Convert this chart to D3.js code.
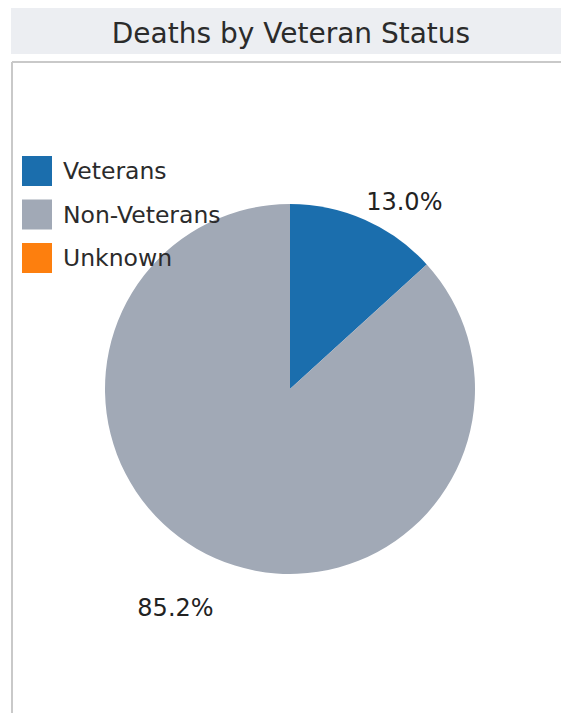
<!DOCTYPE html>
<html>
<head>
<meta charset="utf-8">
<script src="https://cdn.jsdelivr.net/npm/d3@7/dist/d3.min.js"></script>
<style>
  html, body { margin: 0; padding: 0; background: #fff; }
  svg { display: block; font-family: "DejaVu Sans", sans-serif; }
</style>
</head>
<body>
<svg id="chart" width="561" height="713"></svg>
<script>
// Deaths by veteran status, share of total (%)
const categories = ["Veterans", "Non-Veterans", "Unknown"];
const shares = [13.0, 85.2, 0];
const colors = ["#1b6ead", "#a1a9b6", "#fd7f0e"];
const title = "Deaths by Veteran Status";

const svg = d3.select("#chart");
const W = 561, H = 713;

// Title band
svg.append("rect").attr("x", 11).attr("y", 8).attr("width", W - 11).attr("height", 46)
  .attr("fill", "#eceef2");
svg.append("text").attr("x", 291).attr("y", 43).attr("text-anchor", "middle")
  .attr("font-size", 28).attr("fill", "#2b2b2b").text(title);

// Panel frame (top and left edges)
svg.append("line").attr("x1", 12).attr("x2", W).attr("y1", 62).attr("y2", 62)
  .attr("stroke", "#c9c9c9").attr("stroke-width", 2);
svg.append("line").attr("x1", 12).attr("x2", 12).attr("y1", 62).attr("y2", H)
  .attr("stroke", "#c9c9c9").attr("stroke-width", 2);

// Pie
const cx = 290, cy = 389, r = 185;
const data = categories.map((c, i) => ({ name: c, value: shares[i], color: colors[i] }));
const pie = d3.pie().value(d => d.value).sort(null).startAngle(0).endAngle(2 * Math.PI);
const arcs = pie(data);
const arc = d3.arc().innerRadius(0).outerRadius(r);

const g = svg.append("g").attr("transform", `translate(${cx},${cy})`);
g.selectAll("path").data(arcs.filter(a => a.data.value > 0)).join("path")
  .attr("d", arc).attr("fill", d => d.data.color);

// Percentage labels outside the slices (radius factor and small pixel nudge per label)
const labelPlace = {
  "Veterans": { k: 1.1, dx: -6, dy: -2 },
  "Non-Veterans": { k: 1.29, dx: 20, dy: 0 }
};
g.selectAll("text.pct").data(arcs.filter(a => a.data.value > 0)).join("text")
  .attr("class", "pct")
  .each(function (d) {
    const p = labelPlace[d.data.name] || { k: 1.1, dx: 0, dy: 0 };
    const mid = (d.startAngle + d.endAngle) / 2;
    const x = Math.sin(mid) * p.k * r, y = -Math.cos(mid) * p.k * r;
    d3.select(this).attr("x", x + p.dx).attr("y", y + p.dy)
      .attr("text-anchor", x >= 0 ? "start" : "end");
  })
  .attr("dy", "0.36em")
  .attr("font-size", 24).attr("fill", "#222")
  .text(d => d.data.value.toFixed(1) + "%");

// Legend
const lg = svg.append("g").attr("transform", "translate(22,156)");
const item = lg.selectAll("g").data(data).join("g")
  .attr("transform", (d, i) => `translate(0,${i * 43.5})`);
item.append("rect").attr("width", 30).attr("height", 30).attr("fill", d => d.color);
item.append("text").attr("x", 41).attr("y", 15).attr("dy", "0.36em")
  .attr("font-size", 23.5).attr("fill", "#2b2b2b").text(d => d.name);
</script>
</body>
</html>
